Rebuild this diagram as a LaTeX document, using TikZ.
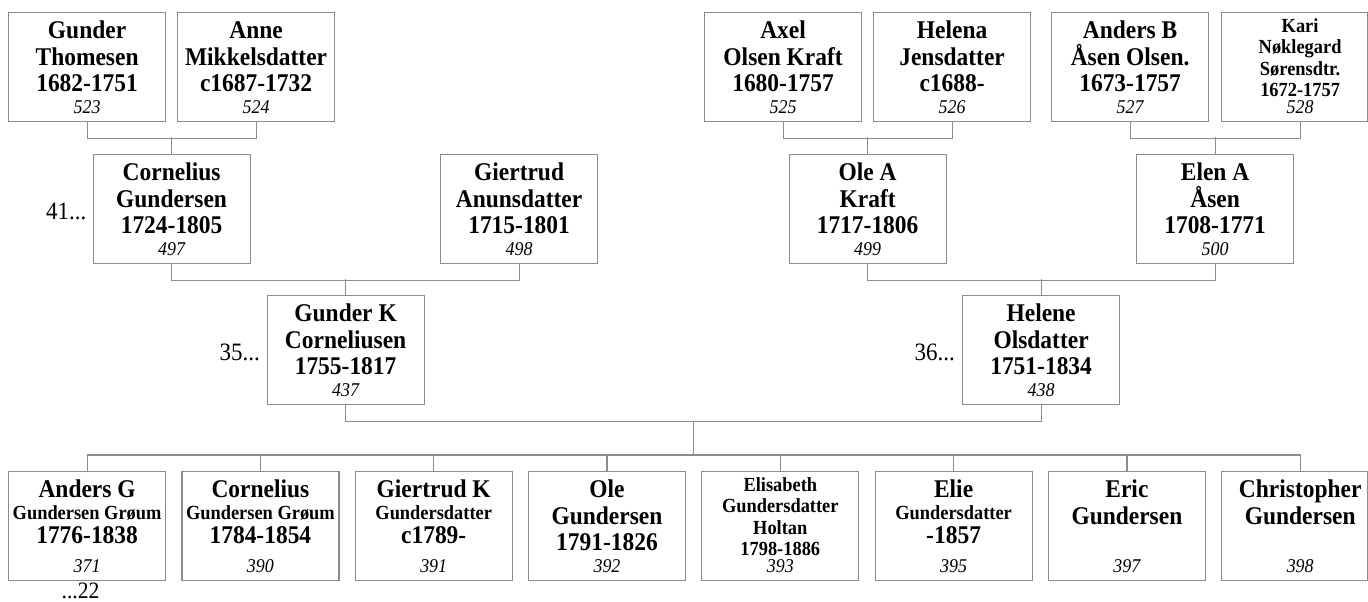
\documentclass[tikz,border=0pt]{standalone}
\usepackage{fontspec}
\setmainfont{Liberation Serif}[FakeStretch=0.92]
\usetikzlibrary{calc}
\definecolor{linegray}{RGB}{140,140,140}
\newcommand{\cardbox}[2]{\parbox[c][109bp][s]{157bp}{\centering #1\par\vfill{\fontsize{19.5bp}{15bp}\selectfont\itshape #2\par}\vspace{7.5bp}}}
\newcommand{\narrowcard}[2]{\makebox[146bp][l]{\cardbox{#1}{#2}}}
\newcommand{\LnBf}[1]{{\fontsize{25.5bp}{26.5bp}\selectfont\bfseries\rule{0pt}{26bp}#1\par}}
\newcommand{\LnB}[1]{{\fontsize{25.5bp}{26.5bp}\selectfont\bfseries #1\par}}
\newcommand{\LnBs}[1]{{\fontsize{25.5bp}{24bp}\selectfont\bfseries #1\par}}
\newcommand{\LnSf}[1]{{\fontsize{20bp}{21.5bp}\selectfont\bfseries\rule{0pt}{19.5bp}#1\par}}
\newcommand{\LnS}[1]{{\fontsize{20bp}{21.5bp}\selectfont\bfseries #1\par}}
\begin{document}
\begin{tikzpicture}[x=1bp,y=-1bp,
  card/.style={draw=linegray, line width=1.2bp, inner sep=0pt, anchor=north west},
  conn/.style={draw=linegray, line width=1.2bp},
  gen/.style={inner sep=0pt, font=\fontsize{25bp}{26bp}\selectfont}]
\useasboundingbox (0,0) rectangle (1368,602);
% generation 1
\node[card] (p523) at (8,12)    {\cardbox{\LnBf{Gunder}\LnB{Thomesen}\LnB{1682-1751}}{523}};
\node[card] (p524) at (177,12)  {\cardbox{\LnBf{Anne}\LnB{Mikkelsdatter}\LnB{c1687-1732}}{524}};
\node[card] (p525) at (704,12)  {\cardbox{\LnBf{Axel}\LnB{Olsen Kraft}\LnB{1680-1757}}{525}};
\node[card] (p526) at (873,12)  {\cardbox{\LnBf{Helena}\LnB{Jensdatter}\LnB{c1688-}}{526}};
\node[card] (p527) at (1051,12) {\cardbox{\LnBf{Anders B}\LnB{Åsen Olsen.}\LnB{1673-1757}}{527}};
\node[card] (p528) at (1221,12) {\narrowcard{\LnSf{Kari}\LnS{Nøklegard}\LnS{Sørensdtr.}\LnS{1672-1757}}{528}};
% generation 2
\node[card] (p497) at (92.5,154) {\cardbox{\LnBf{Cornelius}\LnB{Gundersen}\LnB{1724-1805}}{497}};
\node[card] (p498) at (440,154)  {\cardbox{\LnBf{Giertrud}\LnB{Anunsdatter}\LnB{1715-1801}}{498}};
\node[card] (p499) at (788.5,154) {\cardbox{\LnBf{Ole A}\LnB{Kraft}\LnB{1717-1806}}{499}};
\node[card] (p500) at (1136,154) {\cardbox{\LnBf{Elen A}\LnB{Åsen}\LnB{1708-1771}}{500}};
% generation 3
\node[card] (p437) at (266.5,295) {\cardbox{\LnBf{Gunder K}\LnB{Corneliusen}\LnB{1755-1817}}{437}};
\node[card] (p438) at (962,295)   {\cardbox{\LnBf{Helene}\LnB{Olsdatter}\LnB{1751-1834}}{438}};
% children
\node[card] (k371) at (8,471)      {\cardbox{\LnBf{Anders G}\LnS{Gundersen Grøum}\LnBs{1776-1838}}{371}};
\node[card] (k390) at (181.3,471)  {\cardbox{\LnBf{Cornelius}\LnS{Gundersen Grøum}\LnBs{1784-1854}}{390}};
\node[card] (k391) at (354.6,471)  {\cardbox{\LnBf{Giertrud K}\LnS{Gundersdatter}\LnBs{c1789-}}{391}};
\node[card] (k392) at (527.9,471)  {\cardbox{\LnBf{Ole}\LnB{Gundersen}\LnB{1791-1826}}{392}};
\node[card] (k393) at (701.2,471)  {\cardbox{\LnSf{Elisabeth}\LnS{Gundersdatter}\LnS{Holtan}\LnS{1798-1886}}{393}};
\node[card] (k395) at (874.5,471)  {\cardbox{\LnBf{Elie}\LnS{Gundersdatter}\LnBs{-1857}}{395}};
\node[card] (k397) at (1047.8,471) {\cardbox{\LnBf{Eric}\LnB{Gundersen}}{397}};
\node[card] (k398) at (1221.1,471) {\narrowcard{\LnBf{Christopher}\LnB{Gundersen}}{398}};
% generation labels
\node[gen, anchor=east]  (g41) at ([xshift=-6bp,yshift=-2.5bp]p497.west) {41...};
\node[gen, anchor=east]  (g35) at ([xshift=-6.5bp,yshift=-2.5bp]p437.west) {35...};
\node[gen, anchor=east]  (g36) at ([xshift=-7bp,yshift=-2.5bp]p438.west) {36...};
\node[gen, anchor=north, font=\fontsize{23.5bp}{24bp}\selectfont] (g22) at ([xshift=-6.5bp,yshift=-1.5bp]k371.south) {...22};
% connectors gen1 -> gen2
\draw[conn] (p523.south) -- ++(0,16) -| (p524.south);
\draw[conn] (p497.north) -- ++(0,-17);
\draw[conn] (p525.south) -- ++(0,16) -| (p526.south);
\draw[conn] (p499.north) -- ++(0,-17);
\draw[conn] (p527.south) -- ++(0,16) -| ([xshift=5.5bp]p528.south);
\draw[conn] (p500.north) -- ++(0,-17);
% gen2 -> gen3
\draw[conn] (p497.south) -- ++(0,16) -| (p498.south);
\draw[conn] (p437.north) -- ++(0,-16);
\draw[conn] (p499.south) -- ++(0,16) -| (p500.south);
\draw[conn] (p438.north) -- ++(0,-16);
% gen3 -> children
\draw[conn] (p437.south) -- ++(0,16) -| (p438.south);
\coordinate (fam) at ($(p437.south)!0.5!(p438.south)+(0,16)$);
\draw[conn] (fam) -- ++(0,35);
\draw[conn] (k371.north) -- ++(0,-16) -| ([xshift=5.5bp]k398.north);
\foreach \k in {k390,k391,k392,k393,k395,k397}{
  \draw[conn] (\k.north) -- ++(0,-16);
}
\end{tikzpicture}
\end{document}
